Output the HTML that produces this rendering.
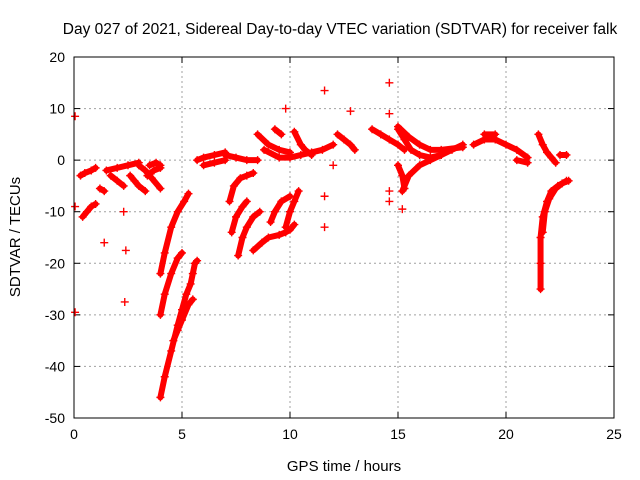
<!DOCTYPE html>
<html><head><meta charset="utf-8"><style>
body{margin:0;background:#fff}
svg{display:block;font-family:"Liberation Sans",sans-serif}
</style></head><body>
<svg id="chart" width="640" height="480" xmlns="http://www.w3.org/2000/svg">
<rect width="640" height="480" fill="#fff"/>
<text x="340" y="34" font-size="15.5" text-anchor="middle">Day 027 of 2021, Sidereal Day-to-day VTEC variation (SDTVAR) for receiver falk</text>
<text x="344" y="471" font-size="15" text-anchor="middle">GPS time / hours</text>
<text x="20" y="237" font-size="15" text-anchor="middle" transform="rotate(-90 20 237)">SDTVAR / TECUs</text>
<g id="grid"></g><g id="axes"></g><g id="marks"></g>
<rect x="74" y="57" width="540" height="361" fill="none" stroke="#000" stroke-width="1"/>
</svg>
<script>
const xTicks=[0,5,10,15,20,25];
const yTicks=[20,10,0,-10,-20,-30,-40,-50];
const tracks=[
[[0.05,8.5]],[[0.05,-9]],[[0.05,-29.5]],
[[0.3,-3],[0.5,-2.5],[0.8,-2],[1,-1.5]],
[[0.4,-11],[0.6,-10],[0.8,-9],[1,-8.5]],
[[1.2,-5.5],[1.4,-6]],[[1.4,-16]],
[[1.5,-2],[2,-1.5],[2.5,-1],[3,-0.5]],
[[1.7,-3],[2,-4],[2.3,-5]],[[2.3,-10]],[[2.4,-17.5]],[[2.35,-27.5]],
[[2.6,-3],[2.8,-4],[3,-5],[3.3,-6]],
[[3,-1],[3.3,-2],[3.6,-3.5],[4,-5.5]],
[[3.5,-1],[3.8,-0.5],[4,-1]],
[[3.4,-3],[3.7,-2],[4,-1.5]],
[[4,-22],[4.2,-18],[4.5,-13],[4.8,-10],[5.1,-8],[5.3,-6.5]],
[[4,-30],[4.2,-26],[4.5,-22],[4.8,-19],[5,-18]],
[[4,-46],[4.2,-42],[4.5,-37],[4.8,-32],[5,-29],[5.2,-26],[5.4,-24],[5.5,-22],[5.6,-20],[5.7,-19.5]],
[[4.6,-35],[4.8,-33],[5,-31],[5.3,-28],[5.5,-27]],
[[5.7,0],[6,0.5],[6.5,1],[7,1.5]],
[[6,-1],[6.5,-0.5],[7,0]],
[[7,1],[7.5,0.5],[8,0],[8.5,0]],
[[7.2,-8],[7.4,-5],[7.7,-3.5],[8,-3],[8.3,-2.5]],
[[7.3,-14],[7.5,-11],[7.8,-9],[8,-8]],
[[7.6,-18.5],[7.8,-15],[8,-13],[8.3,-11],[8.6,-10]],
[[8.3,-17.5],[8.7,-16],[9,-15],[9.5,-14.5],[9.8,-14],[10,-13.5],[10.2,-12.5]],
[[9.1,-12],[9.3,-10],[9.6,-8],[10,-7]],
[[9.8,-13],[10,-10],[10.2,-8],[10.4,-6]],
[[8.5,5],[9,3],[9.5,2],[10,1.5]],
[[9.3,6],[9.6,5]],
[[8.8,2],[9.5,0.5],[10,0.5],[10.5,1],[11,1.5],[11.5,2],[12,3]],
[[10.2,5.5],[10.5,3],[10.7,2],[11,1]],
[[9.8,10]],[[11.6,13.5]],[[11.6,-7]],[[11.6,-13]],[[12,-1]],[[12.8,9.5]],
[[12.2,5],[12.5,4],[12.8,3],[13,2]],
[[13.8,6],[14.2,5],[14.6,4],[15,3],[15.3,2]],
[[14.6,15]],[[14.6,9]],[[14.6,-6]],[[14.6,-8]],
[[15,6],[15.3,4],[15.6,2],[16,1],[16.5,0.5],[17,1],[17.5,2],[18,3]],
[[15,-1],[15.2,-3],[15.3,-5.5]],[[15.2,-9.5]],
[[15.2,-6],[15.5,-3],[16,-1],[16.5,0],[17,1]],
[[15,6.5],[15.5,4.5],[16,3],[16.5,2],[17,2],[18,2.5]],
[[18.5,3],[19,4],[19.5,4],[20,3],[20.5,2],[21,0.5]],
[[19,5],[19.5,5]],[[20.5,0],[21,-0.5]],
[[21.5,5],[21.7,3],[21.9,1.5],[22.1,0.5],[22.3,-0.5]],
[[22.5,1],[22.8,1]],
[[21.6,-25],[21.6,-20],[21.6,-15],[21.7,-11],[21.9,-8],[22.1,-6],[22.4,-5],[22.8,-4]],
[[21.7,-14],[21.8,-10],[22,-7.5],[22.3,-5.5],[22.6,-4.5],[22.9,-4]]
];
const X0=74,X1=614,Y0=418,Y1=57;
const sx=v=>X0+(v-0)/25*(X1-X0);
const sy=v=>Y0-(v+50)/70*(Y0-Y1);
const NS="http://www.w3.org/2000/svg";
const grid=document.getElementById('grid'),axes=document.getElementById('axes'),marks=document.getElementById('marks');
function mk(tag,attrs,parent){const e=document.createElementNS(NS,tag);for(const k in attrs)e.setAttribute(k,attrs[k]);parent.appendChild(e);return e;}
xTicks.forEach(t=>{const x=sx(t);
 if(t>0&&t<25){const g=mk('line',{x1:x,x2:x,y1:Y0,y2:Y1,stroke:'#a0a0a0','stroke-dasharray':'2,3'},grid);
 
 }
 mk('line',{x1:x,x2:x,y1:Y0,y2:Y0-6,stroke:'#000'},axes);mk('line',{x1:x,x2:x,y1:Y1,y2:Y1+6,stroke:'#000'},axes);
 const tx=mk('text',{x:x,y:Y0+21,'font-size':14,'text-anchor':'middle'},axes);tx.textContent=t;
 
 });
yTicks.forEach(t=>{const y=sy(t);
 if(t>-50&&t<20){const g=mk('line',{x1:X0,x2:X1,y1:y,y2:y,stroke:'#a0a0a0','stroke-dasharray':'2,3'},grid);
 
 }
 mk('line',{x1:X0,x2:X0+6,y1:y,y2:y,stroke:'#000'},axes);mk('line',{x1:X1,x2:X1-6,y1:y,y2:y,stroke:'#000'},axes);
 const tx=mk('text',{x:X0-9,y:y+5,'font-size':14,'text-anchor':'end'},axes);tx.textContent=t;
 
 });
tracks.forEach(tr=>{
 if(tr.length>1){const p=mk('polyline',{points:tr.map(q=>sx(q[0])+','+sy(q[1])).join(' '),fill:'none',stroke:'#f00','stroke-width':6,'stroke-linejoin':'round','stroke-linecap':'round'},marks);
 
 }
 tr.forEach(q=>{const x=sx(q[0]),y=sy(q[1]);
  const m=mk('path',{d:`M${x-4},${y}H${x+4}M${x},${y-4}V${y+4}`,stroke:'#f00','stroke-width':1.4},marks);
  
  });
});
</script>
</body></html>
